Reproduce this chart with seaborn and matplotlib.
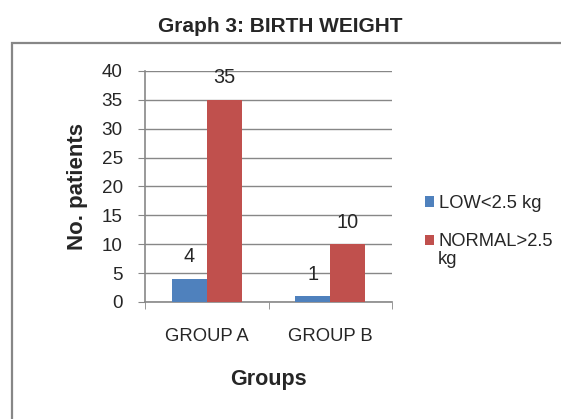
import pandas as pd
import matplotlib.pyplot as plt
import seaborn as sns
from matplotlib.patches import Rectangle

groups = ["GROUP A", "GROUP B"]
series = ["LOW<2.5 kg", "NORMAL>2.5 kg"]
low_counts = [4, 1]
normal_counts = [35, 10]

df = pd.DataFrame({
    "Group": groups * 2,
    "Weight": [series[0]] * 2 + [series[1]] * 2,
    "Patients": low_counts + normal_counts,
})

sns.set_style("white")
plt.rcParams["font.family"] = ["Liberation Sans", "DejaVu Sans"]

fig = plt.figure(figsize=(5.61, 4.19), dpi=100)
ax = fig.add_axes([145 / 561, 1 - 302 / 419, 247 / 561, 231 / 419])

# outer chart frame (only left and top visible in crop)
fig.patches.append(Rectangle((12 / 561, -0.1), 1.2, 1 - 43 / 419 + 0.1,
                             transform=fig.transFigure, fill=False,
                             edgecolor="#878787", linewidth=1.6, zorder=0))

sns.barplot(data=df, x="Group", y="Patients", hue="Weight",
            palette=["#4F81BD", "#C0504D"], width=0.567, saturation=1,
            linewidth=0, ax=ax, zorder=3)

for cont in ax.containers:
    for bar in cont:
        h = bar.get_height()
        ax.annotate(f"{int(h)}", (bar.get_x() + bar.get_width() / 2, h),
                    xytext=(0, 9), textcoords="offset points",
                    ha="center", va="bottom", fontsize=14.3)

ax.set_ylim(0, 40)
ax.set_yticks(range(0, 41, 5))
ax.set_xlim(-0.5, 1.5)
ax.set_xticks([0, 1])
ax.set_xticklabels(groups, fontsize=13.3)
ax.tick_params(axis="y", labelsize=13.6, length=5, color="#878787", direction="out", left=True, pad=11)
ax.tick_params(axis="x", length=0, pad=19)
# ticks at category edges
ax.set_xticks([-0.5, 0.5, 1.5], minor=True)
ax.tick_params(axis="x", which="minor", length=5, color="#878787", direction="out", bottom=True)

ax.yaxis.grid(True, color="#878787", linewidth=1)
ax.set_axisbelow(True)
for side in ["top", "right"]:
    ax.spines[side].set_visible(False)
for side in ["left", "bottom"]:
    ax.spines[side].set_color("#878787")
    ax.spines[side].set_linewidth(1.2)

ax.set_xlabel("Groups", fontsize=15.5, fontweight="bold", labelpad=17)
ax.set_ylabel("No. patients", fontsize=16, fontweight="bold", labelpad=10)

handles, labels = ax.get_legend_handles_labels()
ax.legend(handles, ["LOW<2.5 kg", "NORMAL>2.5"], loc="upper left",
          bbox_to_anchor=(416 / 561, 1 - 186 / 419), bbox_transform=fig.transFigure,
          frameon=False, fontsize=13.2, handlelength=0.5, handleheight=0.5,
          handletextpad=0.25, labelspacing=1.15, borderpad=0)
fig.text(438 / 561, 1 - 260 / 419, "kg", ha="left", va="center", fontsize=13.2)

fig.text(0.5, 1 - 26 / 419, "Graph 3: BIRTH WEIGHT", ha="center", va="center",
         fontsize=15, fontweight="bold")

fig.savefig("out.png", dpi=100)
